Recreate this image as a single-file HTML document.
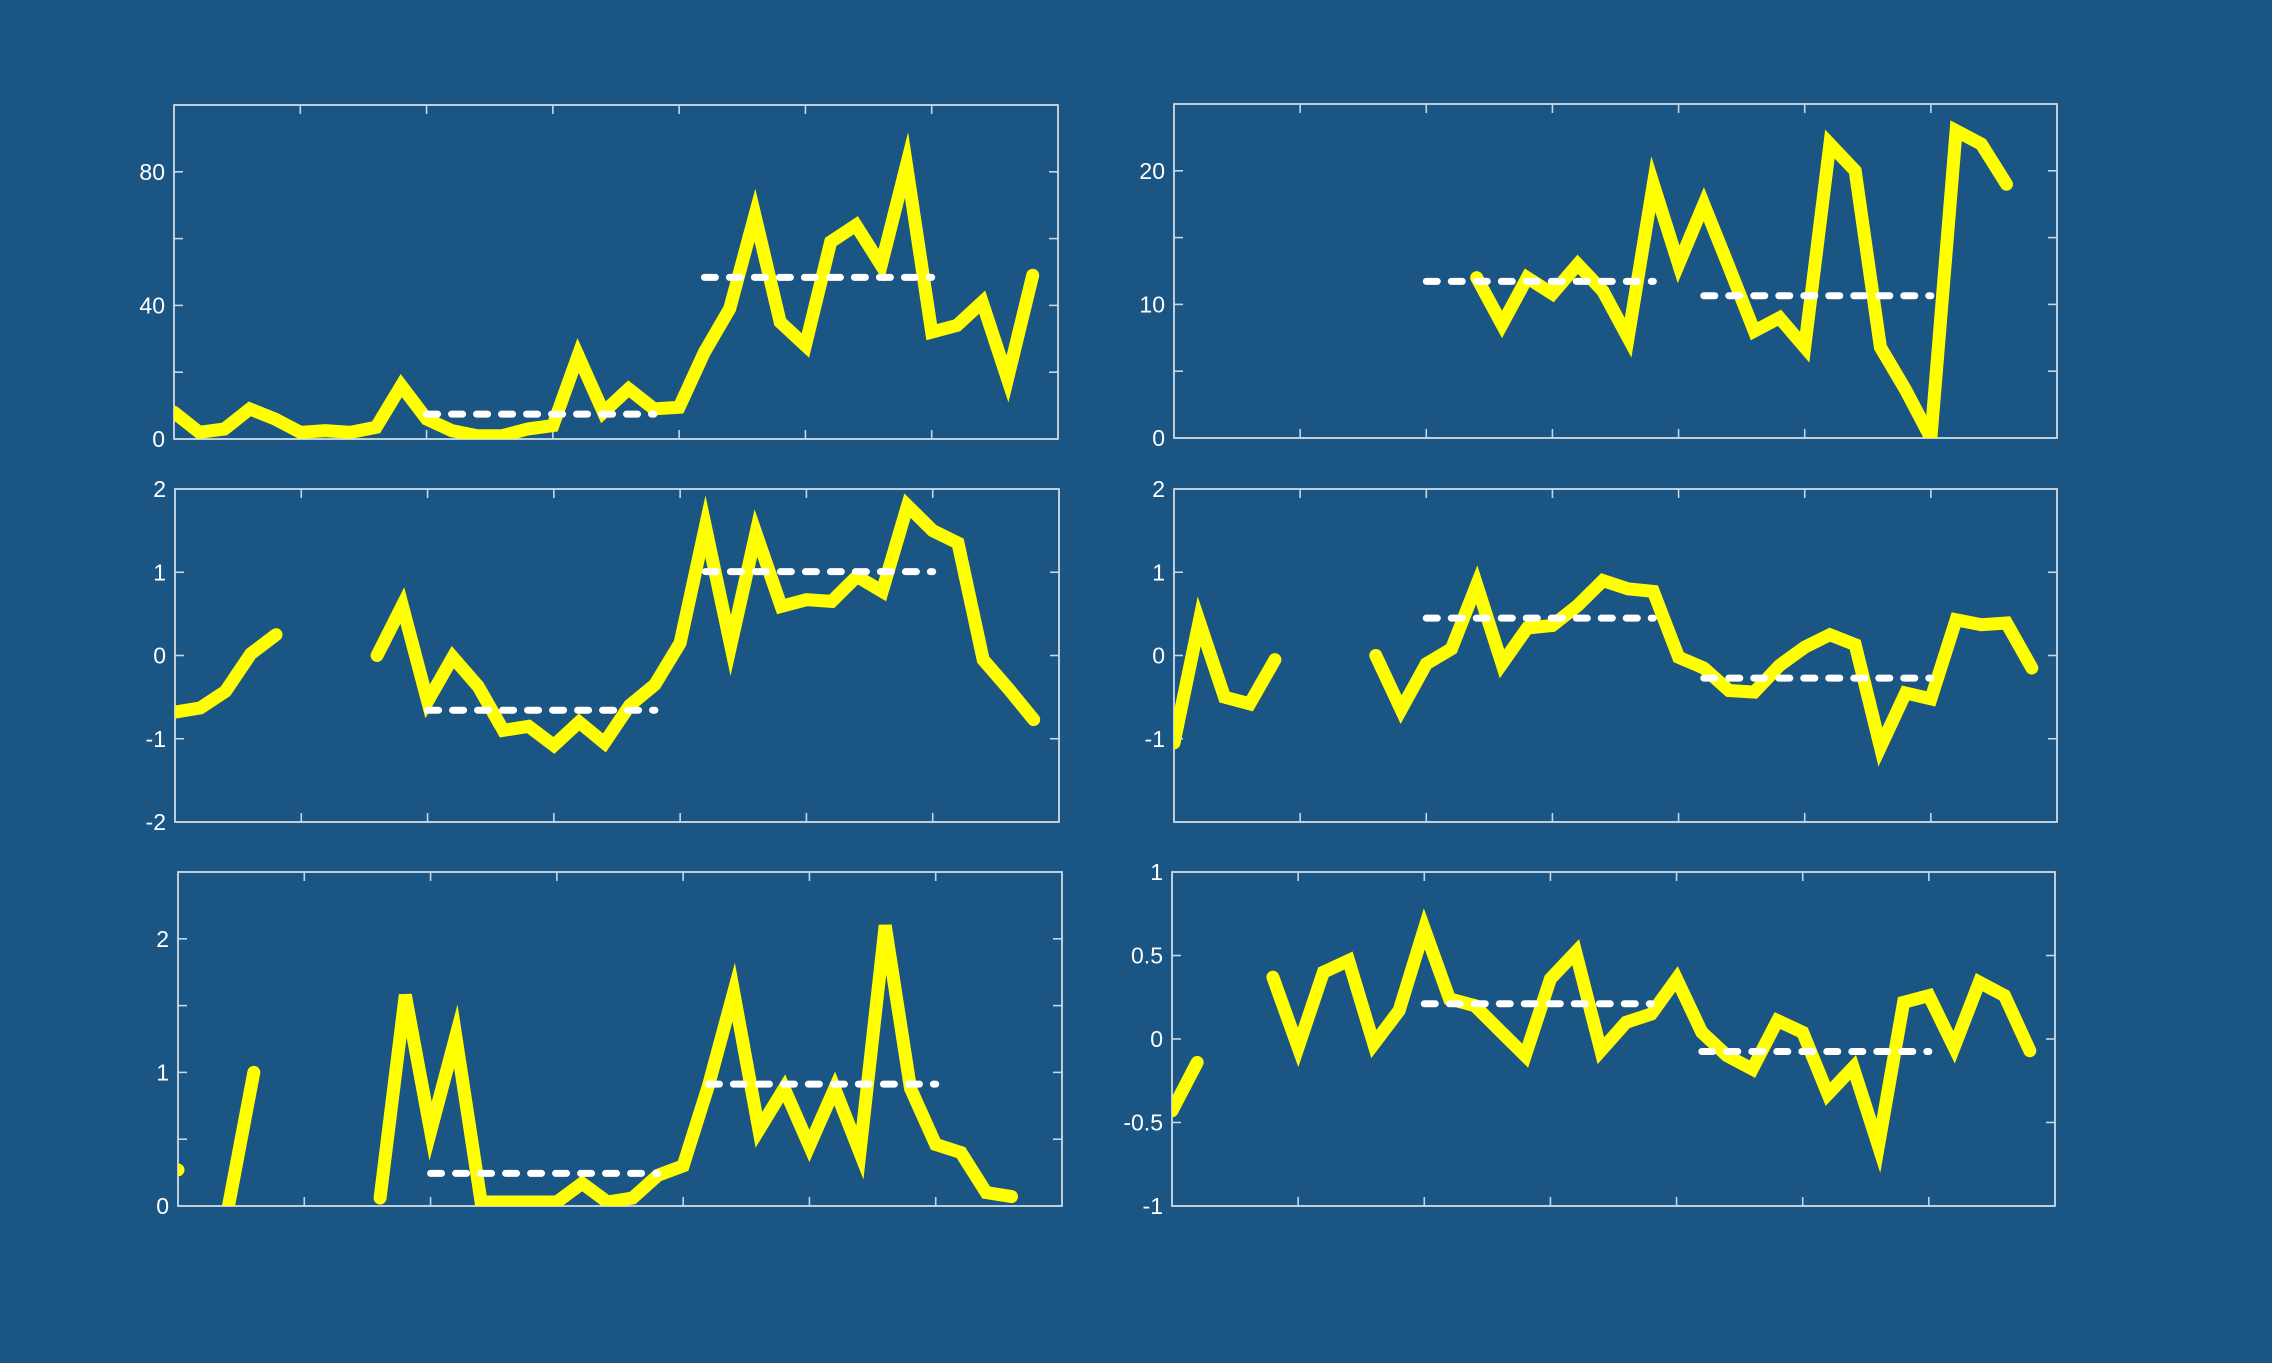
<!DOCTYPE html>
<html><head><meta charset="utf-8"><title>Six panel chart</title>
<style>
html,body{margin:0;padding:0;background:#1a5583;}
svg{display:block;font-family:"Liberation Sans",sans-serif;}
</style></head>
<body>
<svg id="chart" width="2272" height="1363" viewBox="0 0 2272 1363" xmlns="http://www.w3.org/2000/svg">
<rect x="0" y="0" width="2272" height="1363" fill="#1a5583"/>
<defs id="defs"></defs>
</svg>
<script>
// ---- data (one array per panel) ----
const xTicks = [0,5,10,15,20,25,30,35];
const p1Values = [8,2,3,9,6,2,2.5,2,3.5,16,6,2.5,1,1,3,4,25,8,15,9,9.5,26,39,67,35,28,59,64,52,82,32,34,41,18,49];
const p2Values = [null,null,null,null,null,null,null,null,null,null,null,null,12,8.5,12,10.8,13,11,7.5,19,13,17.5,12.8,8,9,6.8,22,20,6.8,3.6,0,23,22,19];
const p3Values = [-0.68,-0.63,-0.43,0.02,0.25,null,null,null,0,0.6,-0.55,-0.02,-0.37,-0.9,-0.85,-1.08,-0.8,-1.05,-0.6,-0.35,0.15,1.55,0.12,1.47,0.59,0.67,0.65,0.95,0.77,1.8,1.5,1.35,-0.05,-0.4,-0.77];
const p4Values = [-1.05,0.41,-0.5,-0.58,-0.05,null,null,null,0,-0.65,-0.1,0.08,0.85,-0.1,0.33,0.36,0.6,0.9,0.8,0.77,-0.02,-0.15,-0.42,-0.44,-0.12,0.1,0.25,0.13,-1.1,-0.45,-0.52,0.43,0.37,0.39,-0.15];
const p5Values = [0.27,null,0,1.0,null,null,null,null,0.06,1.58,0.56,1.27,0.03,0.03,0.03,0.03,0.17,0.03,0.06,0.23,0.3,0.9,1.6,0.57,0.88,0.45,0.88,0.4,2.1,0.88,0.46,0.4,0.1,0.07];
const p6Values = [-0.43,-0.14,null,null,0.37,-0.05,0.4,0.47,-0.03,0.17,0.66,0.24,0.2,0.05,-0.1,0.36,0.52,-0.07,0.1,0.15,0.36,0.04,-0.1,-0.18,0.11,0.04,-0.33,-0.17,-0.64,0.22,0.26,-0.05,0.34,0.26,-0.07];
const meanRanges = [[10,19],[21,30]];
const p1YTicks = [0,20,40,60,80,100];   const p1YLabels = ["0","","40","","80",""];
const p2YTicks = [0,5,10,15,20,25];     const p2YLabels = ["0","","10","","20",""];
const p3YTicks = [-2,-1,0,1,2];         const p3YLabels = ["-2","-1","0","1","2"];
const p4YTicks = [-2,-1,0,1,2];         const p4YLabels = ["","-1","0","1","2"];
const p5YTicks = [0,0.5,1,1.5,2,2.5];   const p5YLabels = ["0","","1","","2",""];
const p6YTicks = [-1,-0.5,0,0.5,1];     const p6YLabels = ["-1","-0.5","0","0.5","1"];

const NS = "http://www.w3.org/2000/svg";
const svg = document.getElementById('chart');
const defs = document.getElementById('defs');
function mk(tag, attrs, parent){
  const e = document.createElementNS(NS, tag);
  for (const k in attrs) e.setAttribute(k, attrs[k]);
  (parent||svg).appendChild(e);
  return e;
}

const panels = [
  {name:'panel-1', x0:174,x1:1058,y0:105,y1:439, ymin:0,ymax:100, vals:p1Values, yt:p1YTicks, yl:p1YLabels},
  {name:'panel-2', x0:1174,x1:2057,y0:104,y1:438, ymin:0,ymax:25, vals:p2Values, yt:p2YTicks, yl:p2YLabels},
  {name:'panel-3', x0:175,x1:1059,y0:489,y1:822, ymin:-2,ymax:2, vals:p3Values, yt:p3YTicks, yl:p3YLabels},
  {name:'panel-4', x0:1174,x1:2057,y0:489,y1:822, ymin:-2,ymax:2, vals:p4Values, yt:p4YTicks, yl:p4YLabels},
  {name:'panel-5', x0:178,x1:1062,y0:872,y1:1206, ymin:0,ymax:2.5, vals:p5Values, yt:p5YTicks, yl:p5YLabels},
  {name:'panel-6', x0:1172,x1:2055,y0:872,y1:1206, ymin:-1,ymax:1, vals:p6Values, yt:p6YTicks, yl:p6YLabels}
];

panels.forEach((p, pi) => {
  const g = mk('g', {});
  
  
  const xs = v => p.x0 + (v - xTicks[0]) / (xTicks[xTicks.length-1] - xTicks[0]) * (p.x1 - p.x0);
  const ys = v => p.y1 - (v - p.ymin) / (p.ymax - p.ymin) * (p.y1 - p.y0);

  const cp = mk('clipPath', {id:'clip'+pi}, defs);
  mk('rect', {x:p.x0, y:p.y0, width:p.x1-p.x0, height:p.y1-p.y0}, cp);

  // axes box
  const box = mk('rect', {x:p.x0, y:p.y0, width:p.x1-p.x0, height:p.y1-p.y0, fill:'none', stroke:'#e6ecf2', 'stroke-width':1.6}, g);
  
  

  // x ticks (top and bottom, inward)
  xTicks.forEach(t => {
    const x = xs(t);
    const tb = mk('line', {x1:x, y1:p.y1, x2:x, y2:p.y1-9, stroke:'#c9d5e0', 'stroke-width':1.6}, g);
    
    
    const tt = mk('line', {x1:x, y1:p.y0, x2:x, y2:p.y0+9, stroke:'#c9d5e0', 'stroke-width':1.6}, g);
    
    
  });
  // y ticks and labels
  p.yt.forEach((t, i) => {
    const y = ys(t);
    const tl = mk('line', {x1:p.x0, y1:y, x2:p.x0+9, y2:y, stroke:'#c9d5e0', 'stroke-width':1.6}, g);
    
    
    const tr = mk('line', {x1:p.x1, y1:y, x2:p.x1-9, y2:y, stroke:'#c9d5e0', 'stroke-width':1.6}, g);
    
    
    if (p.yl[i]) {
      const tx = mk('text', {x:p.x0-9, y:y+8, 'text-anchor':'end', fill:'#ffffff', 'font-size':23}, g);
      tx.textContent = p.yl[i];
      
      
    }
  });

  const plot = mk('g', {'clip-path':'url(#clip'+pi+')'}, g);
  
  

  // yellow series, split at nulls
  let seg = [];
  const segs = [];
  p.vals.forEach((v, i) => {
    if (v === null) { if (seg.length) segs.push(seg); seg = []; }
    else seg.push([xs(i), ys(v)]);
  });
  if (seg.length) segs.push(seg);
  segs.forEach(s => {
    if (s.length === 1) {
      const c = mk('circle', {cx:s[0][0], cy:s[0][1], r:6.5, fill:'#ffff00'}, plot);
      
      
    } else {
      const d = s.map((q, k) => (k ? 'L' : 'M') + q[0].toFixed(1) + ' ' + q[1].toFixed(1)).join(' ');
      const path = mk('path', {d:d, fill:'none', stroke:'#ffff00', 'stroke-width':13, 'stroke-linejoin':'miter', 'stroke-miterlimit':6, 'stroke-linecap':'round'}, plot);
      
      
    }
  });

  // dashed mean lines
  meanRanges.forEach(r => {
    const sub = p.vals.slice(r[0], r[1]+1).filter(v => v !== null);
    if (!sub.length) return;
    const m = sub.reduce((a, b) => a + b, 0) / sub.length;
    const ml = mk('line', {x1:xs(r[0]), y1:ys(m), x2:xs(r[1]), y2:ys(m), stroke:'#ffffff', 'stroke-width':7, 'stroke-dasharray':'11 14', 'stroke-linecap':'round'}, plot);
    
    
  });
});
</script>
</body></html>
